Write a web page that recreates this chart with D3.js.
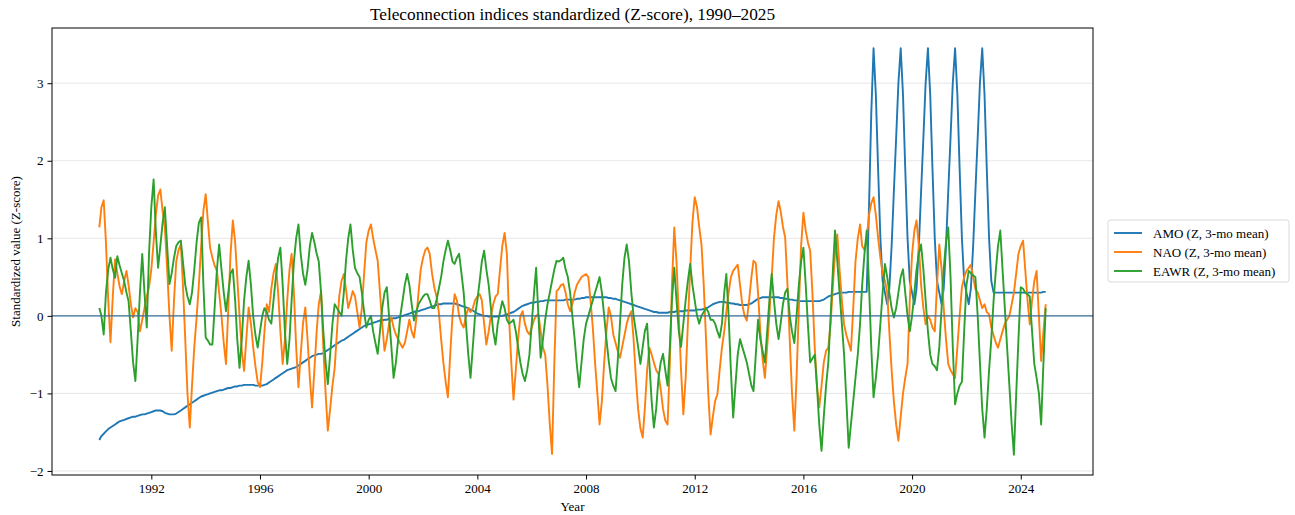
<!DOCTYPE html>
<html>
<head>
<meta charset="utf-8">
<script src="https://cdn.jsdelivr.net/npm/d3@7"></script>
<style>
  html, body { margin: 0; padding: 0; background: #fff; }
  svg { display: block; font-family: "Liberation Serif", "DejaVu Serif", serif; }
</style>
</head>
<body>
<svg id="chart" width="1295" height="515"></svg>
<script>
// ---------------- DATA ----------------
// monthly values, Feb 1990 .. Dec 2024 (3-month means)
const firstMonth = [1990, 1];   // year, month index (Feb)
const lastMonth = [2024, 11];   // Dec 2024
const seriesNames = ["AMO (Z, 3-mo mean)", "NAO (Z, 3-mo mean)", "EAWR (Z, 3-mo mean)"];
const seriesColors = ["#1f77b4", "#ff7f0e", "#2ca02c"];
const yTicks = [-2, -1, 0, 1, 2, 3];
const xTickYears = [1992, 1996, 2000, 2004, 2008, 2012, 2016, 2020, 2024];

const amo = [
 -1.60,-1.55,-1.52,-1.49,-1.46,-1.44,-1.42,-1.40,-1.38,-1.36,-1.35,
 -1.34,-1.33,-1.32,-1.31,-1.30,-1.30,-1.29,-1.28,-1.27,-1.27,-1.26,-1.25,
 -1.24,-1.23,-1.22,-1.22,-1.22,-1.23,-1.25,-1.26,-1.27,-1.27,-1.27,-1.26,
 -1.24,-1.22,-1.20,-1.18,-1.16,-1.14,-1.12,-1.10,-1.08,-1.06,-1.04,-1.03,
 -1.02,-1.01,-1.00,-0.99,-0.98,-0.97,-0.96,-0.96,-0.95,-0.94,-0.93,-0.93,
 -0.92,-0.91,-0.91,-0.90,-0.90,-0.89,-0.89,-0.89,-0.89,-0.89,-0.90,-0.90,
 -0.90,-0.90,-0.89,-0.88,-0.86,-0.84,-0.82,-0.80,-0.78,-0.76,-0.74,-0.72,
 -0.70,-0.69,-0.68,-0.67,-0.66,-0.64,-0.62,-0.60,-0.58,-0.56,-0.54,-0.52,
 -0.51,-0.50,-0.49,-0.49,-0.48,-0.46,-0.44,-0.42,-0.40,-0.38,-0.36,-0.34,
 -0.32,-0.31,-0.29,-0.27,-0.25,-0.23,-0.21,-0.19,-0.17,-0.15,-0.13,-0.12,
 -0.11,-0.10,-0.09,-0.08,-0.07,-0.06,-0.06,-0.05,-0.05,-0.04,-0.04,-0.03,
 -0.03,-0.02,-0.01,0.00,0.01,0.02,0.03,0.04,0.05,0.06,0.06,0.07,
 0.08,0.09,0.10,0.11,0.12,0.13,0.14,0.15,0.15,0.16,0.16,0.16,
 0.16,0.16,0.16,0.15,0.14,0.13,0.12,0.11,0.10,0.08,0.07,0.05,
 0.03,0.02,0.01,0.00,0.00,-0.01,-0.01,-0.01,-0.01,-0.01,0.00,0.00,
 0.01,0.02,0.03,0.04,0.05,0.07,0.09,0.11,0.13,0.14,0.15,0.16,
 0.17,0.17,0.18,0.18,0.19,0.19,0.20,0.20,0.20,0.20,0.20,0.20,
 0.20,0.20,0.20,0.21,0.21,0.21,0.21,0.21,0.22,0.22,0.23,0.23,
 0.24,0.24,0.24,0.24,0.24,0.24,0.24,0.24,0.24,0.24,0.23,0.23,
 0.22,0.22,0.21,0.20,0.19,0.18,0.17,0.16,0.15,0.14,0.13,0.12,
 0.11,0.10,0.09,0.08,0.07,0.06,0.05,0.05,0.04,0.04,0.04,0.04,
 0.04,0.05,0.05,0.05,0.06,0.06,0.06,0.06,0.07,0.07,0.07,0.07,
 0.07,0.08,0.08,0.08,0.09,0.10,0.11,0.13,0.15,0.16,0.17,0.18,
 0.18,0.18,0.17,0.17,0.16,0.16,0.15,0.15,0.14,0.14,0.14,0.14,
 0.15,0.16,0.18,0.20,0.22,0.23,0.24,0.24,0.24,0.24,0.24,0.24,
 0.24,0.24,0.23,0.23,0.22,0.22,0.21,0.21,0.20,0.20,0.19,0.19,
 0.19,0.19,0.19,0.19,0.19,0.19,0.19,0.19,0.20,0.21,0.23,0.25,
 0.26,0.27,0.28,0.29,0.30,0.30,0.30,0.30,0.31,0.31,0.31,0.31,
 0.31,0.31,0.31,0.31,0.31,1.40,2.60,3.45,2.85,1.90,1.00,0.45,
 0.30,0.15,0.35,0.90,1.60,2.30,3.00,3.45,2.85,1.90,1.00,0.45,
 0.30,0.15,0.35,0.90,1.60,2.30,3.00,3.45,2.85,1.90,1.00,0.45,
 0.30,0.15,0.35,0.90,1.60,2.30,3.00,3.45,2.85,1.90,1.00,0.45,
 0.30,0.15,0.35,0.90,1.60,2.30,3.00,3.45,2.85,1.90,1.00,0.45,
 0.30,0.30,0.30,0.30,0.30,0.30,0.30,0.30,0.30,0.30,0.30,0.30,
 0.30,0.30,0.30,0.30,0.30,0.30,0.30,0.30,0.30,0.30,0.31,0.31
];

const nao = [
 1.14,1.40,1.49,0.95,0.20,-0.34,0.25,0.73,0.55,0.38,0.28,
 0.45,0.58,0.40,0.15,-0.02,0.10,0.05,-0.20,-0.05,0.10,0.25,0.37,
 0.60,0.95,1.30,1.55,1.63,1.35,1.14,0.60,0.00,-0.45,0.20,0.70,
 0.85,0.92,0.40,-0.30,-1.00,-1.44,-0.90,-0.40,-0.02,0.40,0.90,1.35,
 1.57,1.20,0.88,0.75,0.65,0.58,0.30,0.00,-0.35,-0.62,0.10,0.80,
 1.23,0.95,0.50,0.00,-0.45,-0.71,-0.30,0.11,-0.10,-0.40,-0.65,-0.85,
 -0.92,-0.60,-0.20,0.15,0.05,0.35,0.55,0.67,0.30,-0.20,-0.62,-0.30,
 0.20,0.60,0.80,0.30,-0.40,-0.92,-0.50,-0.10,0.11,-0.30,-0.80,-1.18,
 -0.70,-0.20,0.15,0.32,-0.40,-1.00,-1.48,-1.20,-0.90,-0.67,-0.20,0.25,
 0.45,0.54,0.35,0.10,0.20,0.32,0.25,0.05,-0.15,0.10,0.55,0.95,
 1.10,1.18,1.00,0.85,0.71,0.30,-0.10,-0.45,-0.30,-0.10,-0.02,-0.15,
 -0.24,-0.30,-0.36,-0.41,-0.35,-0.20,-0.05,-0.20,-0.28,-0.05,0.30,0.60,
 0.75,0.85,0.88,0.80,0.55,0.37,0.25,0.05,-0.30,-0.60,-0.85,-1.05,
 -0.50,0.00,0.28,0.20,0.00,-0.10,-0.15,0.00,0.10,0.05,0.10,0.20,
 0.25,0.28,0.20,-0.10,-0.37,-0.20,0.00,0.15,0.25,0.28,0.60,0.90,
 1.07,0.80,0.00,-0.60,-1.08,-0.70,-0.30,0.00,0.06,-0.10,-0.20,-0.24,
 -0.15,-0.05,0.00,0.02,-0.20,-0.41,-0.50,-0.90,-1.40,-1.78,-0.60,0.32,
 0.35,0.40,0.41,0.30,0.15,0.06,0.15,0.30,0.40,0.45,0.50,0.52,
 0.54,0.50,0.20,-0.15,-0.60,-1.00,-1.40,-1.10,-0.60,-0.20,0.11,0.00,
 -0.24,-0.35,-0.45,-0.54,-0.40,-0.25,-0.10,0.00,0.06,-0.30,-0.80,-1.20,
 -1.45,-1.57,-1.20,-0.70,-0.41,-0.50,-0.60,-0.70,-0.75,-0.95,-1.20,-1.35,
 -1.40,-0.60,0.40,1.14,0.70,0.00,-0.70,-1.27,-0.80,-0.10,0.60,1.20,
 1.53,1.40,1.15,0.92,0.40,-0.30,-1.00,-1.53,-1.30,-1.10,-1.01,-0.70,
 -0.41,-0.20,0.05,0.30,0.50,0.58,0.62,0.66,0.40,0.15,0.00,-0.06,
 0.20,0.50,0.71,0.68,0.30,-0.20,-0.55,-0.80,-0.40,0.02,0.50,1.00,
 1.30,1.48,1.35,1.15,1.01,0.40,-0.30,-1.00,-1.48,-0.80,0.10,0.90,
 1.33,1.10,0.95,0.84,0.30,-0.40,-0.90,-1.18,-0.90,-0.60,-0.45,-0.41,
 -0.10,0.40,0.80,1.05,0.60,0.20,-0.11,-0.25,-0.35,-0.45,0.10,0.70,
 1.00,1.18,0.90,0.85,1.00,1.30,1.45,1.53,1.30,1.01,0.75,0.55,
 0.45,0.30,-0.20,-0.70,-1.10,-1.40,-1.61,-1.30,-1.00,-0.80,-0.62,0.20,
 0.80,1.10,1.23,0.90,0.40,0.10,-0.11,0.00,-0.05,-0.15,-0.20,0.40,
 0.92,0.60,0.10,-0.30,-0.62,-0.70,-0.75,-0.80,-0.40,0.00,0.37,0.50,
 0.58,0.62,0.66,0.50,0.35,0.30,0.20,0.10,0.15,0.05,0.02,-0.15,
 -0.25,-0.35,-0.41,-0.30,-0.20,-0.10,-0.05,0.00,0.15,0.30,0.55,0.80,
 0.90,0.97,0.60,0.20,-0.11,0.20,0.45,0.58,0.00,-0.58,-0.20,0.15
];

const eawr = [
 0.10,0.00,-0.24,0.30,0.60,0.75,0.60,0.49,0.77,0.65,0.55,
 0.45,0.30,0.19,-0.20,-0.60,-0.84,-0.30,0.30,0.80,0.30,-0.15,0.80,
 1.40,1.76,1.10,0.62,0.90,1.20,1.40,0.90,0.41,0.55,0.75,0.90,
 0.95,0.97,0.70,0.40,0.25,0.15,0.30,0.60,0.95,1.20,1.27,0.40,
 -0.28,-0.32,-0.37,-0.37,0.10,0.60,0.92,0.60,0.30,0.06,0.30,0.55,
 0.60,0.20,-0.30,-0.67,-0.30,0.20,0.50,0.71,0.40,0.00,-0.25,-0.41,
 -0.20,0.00,0.10,0.05,-0.05,-0.10,0.20,0.50,0.75,0.88,0.40,-0.20,
 -0.62,-0.30,0.20,0.70,1.00,1.18,0.80,0.55,0.40,0.60,0.90,1.07,
 0.95,0.80,0.70,0.30,-0.20,-0.60,-0.88,-0.50,-0.10,0.15,0.10,0.05,
 0.00,0.30,0.70,1.00,1.18,0.85,0.62,0.55,0.50,0.30,0.05,-0.15,
 -0.05,0.00,-0.20,-0.35,-0.49,-0.20,0.10,0.30,0.37,0.00,-0.40,-0.80,
 -0.60,-0.30,0.00,0.20,0.40,0.54,0.40,0.15,-0.06,0.05,0.15,0.20,
 0.25,0.28,0.28,0.20,0.10,0.10,0.20,0.35,0.50,0.70,0.85,0.97,
 0.85,0.70,0.67,0.75,0.80,0.55,0.30,-0.10,-0.50,-0.80,-0.40,0.00,
 0.20,0.45,0.70,0.84,0.60,0.40,0.10,-0.20,-0.37,-0.10,0.05,0.19,
 0.10,-0.05,-0.10,-0.08,-0.05,-0.20,-0.40,-0.60,-0.75,-0.84,-0.70,-0.50,
 -0.10,0.30,0.62,0.00,-0.54,-0.30,-0.05,0.15,0.30,0.45,0.60,0.71,
 0.70,0.72,0.75,0.60,0.50,0.30,0.00,-0.30,-0.65,-0.92,-0.60,-0.30,
 -0.10,0.00,0.10,0.20,0.30,0.40,0.50,0.30,0.00,-0.30,-0.58,-0.80,
 -0.90,-0.97,-0.60,-0.10,0.40,0.75,0.92,0.70,0.30,0.00,-0.20,-0.40,
 -0.62,-0.40,-0.20,-0.10,-0.60,-1.10,-1.44,-1.20,-0.80,-0.60,-0.49,-0.70,
 -0.90,-0.40,0.20,0.62,0.20,-0.20,-0.40,-0.10,0.20,0.45,0.67,0.40,
 0.20,0.00,-0.10,0.00,0.05,0.10,0.05,-0.05,-0.05,-0.10,-0.20,-0.28,
 -0.10,0.30,0.54,0.00,-0.70,-1.31,-0.90,-0.50,-0.30,-0.40,-0.50,-0.60,
 -0.75,-0.90,-0.97,-0.50,-0.05,-0.30,-0.45,-0.60,-0.20,0.20,0.54,0.20,
 -0.10,-0.30,-0.10,0.15,0.30,0.35,0.00,-0.20,-0.35,0.00,0.40,0.70,
 0.88,0.40,-0.10,-0.60,-0.55,-0.50,-0.90,-1.40,-1.74,-1.30,-0.90,-0.60,
 0.00,0.60,1.10,0.70,0.30,-0.10,-0.50,-1.10,-1.70,-1.40,-1.10,-0.80,
 -0.50,-0.10,0.40,0.80,1.10,0.40,-0.40,-1.05,-0.80,-0.50,-0.10,0.30,
 0.67,0.50,0.30,0.10,-0.02,0.10,0.30,0.50,0.60,0.30,0.00,-0.20,
 0.00,0.30,0.60,0.80,0.92,0.60,0.20,-0.20,-0.50,-0.62,-0.65,-0.70,
 -0.40,0.10,0.60,0.95,1.14,0.50,-0.40,-1.14,-1.00,-0.90,-0.85,-0.20,
 0.40,0.58,0.55,0.52,0.50,0.00,-0.60,-1.20,-1.57,-1.20,-0.70,-0.30,
 0.20,0.60,0.90,1.10,0.60,0.10,-0.40,-0.90,-1.40,-1.79,-1.00,-0.30,
 0.37,0.35,0.30,0.28,0.25,-0.20,-0.62,-0.80,-1.00,-1.40,-0.60,0.10
];

// ---------------- CHART ----------------
const W = 1295, H = 515;
const margin = { left: 52, right: 202, top: 28, bottom: 40 };
const plotW = W - margin.left - margin.right;   // 1041
const plotH = H - margin.top - margin.bottom;   // 447

const dates = d3.timeMonth.range(
  new Date(firstMonth[0], firstMonth[1], 1),
  d3.timeMonth.offset(new Date(lastMonth[0], lastMonth[1], 1), 1));

const allSeries = [amo, nao, eawr].map((vals, i) => ({
  name: seriesNames[i], color: seriesColors[i],
  points: vals.map((v, j) => ({ date: dates[j], value: v }))
}));

// matplotlib-style 5% margins
const t0 = dates[0].getTime(), t1 = dates[dates.length - 1].getTime();
const tPad = (t1 - t0) * 0.05;
const x = d3.scaleTime()
  .domain([new Date(t0 - tPad), new Date(t1 + tPad)])
  .range([margin.left, margin.left + plotW]);

const allVals = amo.concat(nao, eawr);
const vMin = d3.min(allVals), vMax = d3.max(allVals);
const vPad = (vMax - vMin) * 0.05;
const y = d3.scaleLinear()
  .domain([vMin - vPad, vMax + vPad])
  .range([margin.top + plotH, margin.top]);

const svg = d3.select("#chart");

// grid (y only)
svg.append("g")
  .selectAll("line").data(yTicks).join("line")
  .attr("x1", margin.left).attr("x2", margin.left + plotW)
  .attr("y1", d => y(d)).attr("y2", d => y(d))
  .attr("stroke", "#b0b0b0").attr("stroke-opacity", 0.3).attr("stroke-width", 1);

// clip
svg.append("clipPath").attr("id", "clip").append("rect")
  .attr("x", margin.left).attr("y", margin.top).attr("width", plotW).attr("height", plotH);

const line = d3.line().x(d => x(d.date)).y(d => y(d.value));
const gLines = svg.append("g").attr("clip-path", "url(#clip)");
allSeries.forEach(s => {
  gLines.append("path").datum(s.points)
    .attr("fill", "none").attr("stroke", s.color)
    .attr("stroke-width", 1.9).attr("stroke-linejoin", "round").attr("stroke-linecap", "butt")
    .attr("d", line);
});

// zero line
gLines.append("line")
  .attr("x1", margin.left).attr("x2", margin.left + plotW)
  .attr("y1", y(0)).attr("y2", y(0))
  .attr("stroke", "#3a6f98").attr("stroke-width", 1.1);

// axes
const fmtMinus = d => d < 0 ? "\u2212" + Math.abs(d) : String(d);
const xAxis = d3.axisBottom(x)
  .tickValues(xTickYears.map(yy => new Date(yy, 0, 1)))
  .tickFormat(d3.timeFormat("%Y")).tickSizeOuter(0).tickSize(4.5).tickPadding(4);
const yAxis = d3.axisLeft(y).tickValues(yTicks).tickFormat(fmtMinus)
  .tickSizeOuter(0).tickSize(4.5).tickPadding(4);

const gx = svg.append("g").attr("transform", `translate(0,${margin.top + plotH})`).call(xAxis);
const gy = svg.append("g").attr("transform", `translate(${margin.left},0)`).call(yAxis);
[gx, gy].forEach(g => {
  g.select(".domain").remove();
  g.selectAll(".tick line").attr("stroke", "#000").attr("stroke-width", 1);
  g.selectAll(".tick text").attr("fill", "#000").style("font-size", "13px")
    .style("font-family", "'Liberation Serif', serif");
});

// frame
svg.append("rect")
  .attr("x", margin.left).attr("y", margin.top).attr("width", plotW).attr("height", plotH)
  .attr("fill", "none").attr("stroke", "#000").attr("stroke-width", 1);

// title & labels
svg.append("text").attr("x", margin.left + plotW / 2).attr("y", 20)
  .attr("text-anchor", "middle").style("font-size", "17.3px")
  .text("Teleconnection indices standardized (Z-score), 1990\u20132025");
svg.append("text").attr("x", margin.left + plotW / 2).attr("y", 511)
  .attr("text-anchor", "middle").style("font-size", "13px").text("Year");
svg.append("text")
  .attr("transform", `translate(20,${margin.top + plotH / 2}) rotate(-90)`)
  .attr("text-anchor", "middle").style("font-size", "13px")
  .text("Standardized value (Z-score)");

// legend
const lgX = 1108, lgY = 220, lgW = 181, lgH = 62;
const lg = svg.append("g");
lg.append("rect").attr("x", lgX).attr("y", lgY).attr("width", lgW).attr("height", lgH)
  .attr("rx", 2.5).attr("fill", "#fff").attr("fill-opacity", 0.8)
  .attr("stroke", "#d9d9d9").attr("stroke-width", 1);
allSeries.forEach((s, i) => {
  const yy = lgY + 13 + i * 19;
  lg.append("line").attr("x1", lgX + 6).attr("x2", lgX + 34)
    .attr("y1", yy).attr("y2", yy).attr("stroke", s.color).attr("stroke-width", 1.9);
  lg.append("text").attr("x", lgX + 45).attr("y", yy + 4.5)
    .style("font-size", "13px").text(s.name);
});
</script>
</body>
</html>
